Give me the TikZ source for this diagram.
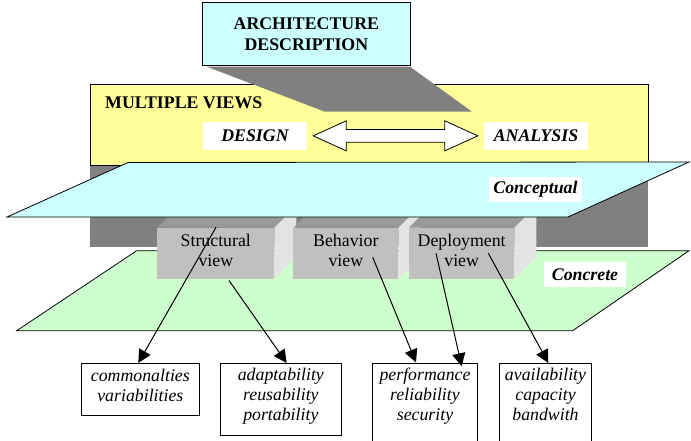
\documentclass[tikz,border=0pt]{standalone}
\usepackage{fontspec}
\setmainfont{Liberation Serif}
\usetikzlibrary{arrows.meta,calc}
\definecolor{paleyellow}{HTML}{FFFF99}
\definecolor{palecyan}{HTML}{CCFFFF}
\definecolor{palegreen}{HTML}{CCFFCC}
\definecolor{backgray}{HTML}{808080}
\definecolor{boxfront}{HTML}{C0C0C0}
\definecolor{boxtop}{HTML}{999999}
\definecolor{boxside}{HTML}{E3E3E3}
\begin{document}
\begin{tikzpicture}[x=1pt,y=-1pt,
  txt/.style={font=\fontsize{17.8}{20.4}\selectfont, inner sep=0pt},
  boldtxt/.style={font=\fontsize{17.8}{20.7}\selectfont\bfseries, inner sep=0pt},
  whitelabel/.style={fill=white, inner sep=0pt, font=\fontsize{17.8}{20.7}\selectfont\bfseries\itshape},
  plane/.style={draw=black, line width=0.8pt},
  vfront/.style={fill=boxfront, inner sep=0pt, minimum height=51.3pt},
  qbox/.style={draw=black, line width=0.8pt, fill=white, inner sep=0pt},
  qtxt/.style={font=\fontsize{17.8}{20.2}\selectfont\itshape, inner sep=0pt, align=center, anchor=north},
  conn/.style={draw=black, line width=1pt, -{Triangle[length=13pt,width=13pt]}},
]
\useasboundingbox (0,0) rectangle (691,441);

% back gray block
\fill[backgray] (90,150) rectangle (648,247);

% yellow MULTIPLE VIEWS panel
\node[draw=black, line width=0.8pt, fill=paleyellow, inner sep=0pt,
      minimum width=558pt, minimum height=81pt] (views) at (369,124.5) {};
\node[boldtxt, anchor=base west] (mvtxt) at (105,108.8) {MULTIPLE VIEWS};

% shadow of the architecture description box
\fill[backgray] (206.7,66.7) -- (410,66.7) -- (472,111.7) -- (325,111.7) -- cycle;

% architecture description box
\node[draw=black, line width=0.8pt, fill=palecyan, inner sep=0pt, align=center,
      minimum width=207.3pt, minimum height=62.7pt,
      font=\fontsize{17.8}{20.7}\selectfont\bfseries] (arch) at (306.35,34.2)
      {ARCHITECTURE\\DESCRIPTION};

% design / analysis
\node[whitelabel, minimum width=104pt, minimum height=28.3pt] (design) at (255,135.85) {DESIGN};
\node[whitelabel, minimum width=104pt, minimum height=28.3pt] (analysis) at (536,135.85) {ANALYSIS};
\coordinate (dl) at ($(design.east)+(6,0)$);
\coordinate (ar) at ($(analysis.west)+(-6,0)$);
\draw[fill=white, line width=0.8pt] (dl) -- ++(33,-15) -- ++(0,8.6)
   -- ($(ar)+(-33,-6.4)$) -- ++(0,-8.6) -- (ar) -- ++(-33,15) -- ++(0,-8.6)
   -- ($(dl)+(33,6.4)$) -- ++(0,8.6) -- cycle;

% concrete plane
\draw[plane, fill=palegreen] (136.7,250.7) -- (689,250.7) -- (572.7,330.7) -- (16.7,330.7) -- cycle;
\node[whitelabel, minimum width=82pt, minimum height=25pt] (concrete) at (585,274.2) {Concrete};

% Structural view box
\fill[boxtop] (157.3,227.7) -- (179.3,205.7) -- (296.3,205.7) -- (274.3,227.7) -- cycle;
\fill[boxside] (274.3,227.7) -- (296.3,205.7) -- (296.3,257) -- (274.3,279) -- cycle;
\node[vfront, minimum width=117pt] (sv) at (215.8,253.35) {};
\node[txt, align=center, anchor=north] (svt) at (215.8,233.8) {Structural\\view};

% Behavior view box
\fill[boxtop] (293.3,227.7) -- (315.3,205.7) -- (420.3,205.7) -- (398.3,227.7) -- cycle;
\fill[boxside] (398.3,227.7) -- (420.3,205.7) -- (420.3,257) -- (398.3,279) -- cycle;
\node[vfront, minimum width=105pt] (bv) at (345.8,253.35) {};
\node[txt, align=center, anchor=north] (bvt) at (345.8,233.8) {Behavior\\view};

% Deployment view box
\fill[boxtop] (409,227.7) -- (431,205.7) -- (536.3,205.7) -- (514.3,227.7) -- cycle;
\fill[boxside] (514.3,227.7) -- (536.3,205.7) -- (536.3,257) -- (514.3,279) -- cycle;
\node[vfront, minimum width=105.3pt] (dv) at (461.65,253.35) {};
\node[txt, align=center, anchor=north] (dvt) at (461.65,233.8) {Deployment\\view};

% conceptual plane
\draw[plane, fill=palecyan] (128,162.5) -- (689,162) -- (568,217) -- (7,217) -- cycle;
\node[whitelabel, minimum width=92.4pt, minimum height=25pt] (conceptual) at (535.5,189.2) {Conceptual};

% quality boxes
\node[qbox, minimum width=117.3pt, minimum height=52.4pt] (comm) at (140.35,389.5) {};
\node[qtxt] (commt) at (140.35,368.8) {commonalties\\variabilities};
\node[qbox, minimum width=121.7pt, minimum height=72.4pt] (adapt) at (280.85,399.5) {};
\node[qtxt] (adaptt) at (280.85,367.8) {adaptability\\reusability\\portability};
\node[qbox, minimum width=104.6pt, minimum height=82.7pt] (perf) at (425,404.65) {};
\node[qtxt] (perft) at (425,367.8) {performance\\reliability\\security};
\node[qbox, minimum width=92.4pt, minimum height=82.7pt] (avail) at (545.5,404.65) {};
\node[qtxt] (availt) at (545.5,367.8) {availability\\capacity\\bandwith};

% connector end points
\coordinate (s1) at (216,227.3);
\coordinate (s2) at (229,280.5);
\coordinate (s3) at (372.7,257.3);
\coordinate (s4) at (436,253.3);
\coordinate (s5) at (488.3,253.3);
\coordinate (t1) at ($(comm.north)+(-2,0)$);
\coordinate (t2) at ($(adapt.north)+(5.8,0)$);
\coordinate (t3) at ($(perf.north)+(-9,-0.5)$);
\coordinate (t4) at ($(perf.north)+(36.7,3.4)$);
\coordinate (t5) at ($(avail.north)+(2.8,0)$);
\draw[conn] (s1) -- (t1);
\draw[conn] (s2) -- (t2);
\draw[conn] (s3) -- (t3);
\draw[conn] (s4) -- (t4);
\draw[conn] (s5) -- (t5);
\end{tikzpicture}
\end{document}
